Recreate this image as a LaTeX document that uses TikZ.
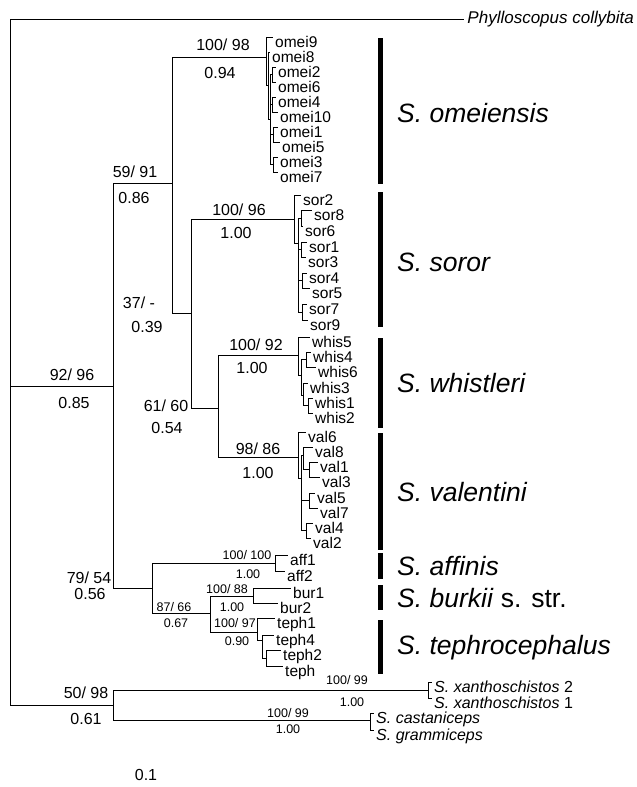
\documentclass[tikz,border=0pt]{standalone}
\usepackage{fontspec}
\setmainfont{Liberation Sans}

\begin{document}
\begin{tikzpicture}[x=1pt, y=-1pt,
    branch/.style={line width=0.7pt},
    leaf/.style={anchor=west, inner xsep=2pt, inner ysep=0pt, text height=20pt, text depth=0pt, font=\fontsize{15.5}{15.5}\selectfont},
    sleaf/.style={leaf, font=\fontsize{16}{16}\selectfont},
    supp/.style={inner sep=0pt, font=\fontsize{16}{16}\selectfont},
    ssupp/.style={inner sep=0pt, font=\fontsize{12.5}{13}\selectfont},
    bar/.style={line width=4.5pt},
    clade/.style={anchor=west, inner sep=0pt, font=\fontsize{26.5}{28}\selectfont}]
  \fill[white] (0,0) rectangle (637,787);
  \useasboundingbox (0,0) rectangle (637,787);

  % backbone
  \coordinate (root) at (10,386);
  \coordinate (n92) at (113,386);
  \coordinate (og) at (113,705);
  \coordinate (xanth) at (428,690);
  \coordinate (cast) at (370,720);
  \coordinate (n59) at (172,183);
  \coordinate (n37) at (191,313);
  \coordinate (n61) at (218,408);
  \coordinate (n79) at (152,588);
  \coordinate (n87) at (210,613);
  % omeiensis
  \coordinate (o1) at (266,57);
  \coordinate (o2) at (268,85);
  \coordinate (o3) at (270,119);
  \coordinate (p1) at (272,74.5);
  \coordinate (p2) at (272,104.5);
  \coordinate (p3) at (273,134.5);
  \coordinate (p4) at (273,164.5);
  % soror
  \coordinate (s1) at (294,219);
  \coordinate (s2) at (298,243);
  \coordinate (q1) at (301,218);
  \coordinate (q2) at (301,249.5);
  \coordinate (q3) at (302,280.5);
  \coordinate (q4) at (302,312);
  % whistleri
  \coordinate (w1) at (298,355);
  \coordinate (w2) at (301,375);
  \coordinate (w3) at (306,359.5);
  \coordinate (w4) at (303,395);
  \coordinate (w5) at (308,405.5);
  % valentini
  \coordinate (v1) at (298,457);
  \coordinate (v2) at (301,478);
  \coordinate (v3) at (303,455);
  \coordinate (v4) at (309,469.5);
  \coordinate (v5) at (309,500.5);
  \coordinate (v6) at (306,530.5);
  % affinis, burkii, tephrocephalus
  \coordinate (a1) at (275,563);
  \coordinate (b1) at (253,596);
  \coordinate (t1) at (257,632);
  \coordinate (t2) at (262,640);
  \coordinate (t3) at (266,658);

  % tips
  \node[anchor=east, inner xsep=3pt, inner ysep=0pt, font=\fontsize{17}{17}\selectfont\itshape] (phyl) at (637,19) {Phylloscopus collybita};
  \node[leaf] (omei9) at (273,37) {omei9};
  \node[leaf] (omei8) at (270,52) {omei8};
  \node[leaf] (omei2) at (276,67) {omei2};
  \node[leaf] (omei6) at (276,82) {omei6};
  \node[leaf] (omei4) at (276,97) {omei4};
  \node[leaf] (omei10) at (278,112) {omei10};
  \node[leaf] (omei1) at (278,127) {omei1};
  \node[leaf] (omei5) at (280,142) {omei5};
  \node[leaf] (omei3) at (278,157) {omei3};
  \node[leaf] (omei7) at (278,172) {omei7};
  \node[leaf] (sor2) at (301,195) {sor2};
  \node[leaf] (sor8) at (312,210) {sor8};
  \node[leaf] (sor6) at (303,226) {sor6};
  \node[leaf] (sor1) at (307,242) {sor1};
  \node[leaf] (sor3) at (306,257) {sor3};
  \node[leaf] (sor4) at (307,273) {sor4};
  \node[leaf] (sor5) at (310,288) {sor5};
  \node[leaf] (sor7) at (307,304) {sor7};
  \node[leaf] (sor9) at (308,320) {sor9};
  \node[leaf] (whis5) at (310,337) {whis5};
  \node[leaf] (whis4) at (311,352) {whis4};
  \node[leaf] (whis6) at (316,367) {whis6};
  \node[leaf] (whis3) at (308,383) {whis3};
  \node[leaf] (whis1) at (313,398) {whis1};
  \node[leaf] (whis2) at (313,413) {whis2};
  \node[leaf] (val6) at (306,432) {val6};
  \node[leaf] (val8) at (313,447) {val8};
  \node[leaf] (val1) at (318,462) {val1};
  \node[leaf] (val3) at (320,477) {val3};
  \node[leaf] (val5) at (315,493) {val5};
  \node[leaf] (val7) at (318,508) {val7};
  \node[leaf] (val4) at (313,523) {val4};
  \node[leaf] (val2) at (311,538) {val2};
  \node[leaf] (aff1) at (288,555) {aff1};
  \node[leaf] (aff2) at (285,571) {aff2};
  \node[leaf] (bur1) at (291,588) {bur1};
  \node[leaf] (bur2) at (278,603) {bur2};
  \node[leaf] (teph1) at (275,618) {teph1};
  \node[leaf] (teph4) at (274,635) {teph4};
  \node[leaf] (teph2) at (281,650) {teph2};
  \node[leaf] (teph) at (283,666) {teph};
  \node[sleaf] (xan2) at (432,682) {\textit{S. xanthoschistos} 2};
  \node[sleaf] (xan1) at (432,698) {\textit{S. xanthoschistos} 1};
  \node[sleaf] (casta) at (374,713) {\textit{S. castaniceps}};
  \node[sleaf] (gram) at (374,730) {\textit{S. grammiceps}};

  % branches
  \draw[branch] (root) |- (phyl) (root) -- (n92) (root) |- (og)
    (og) |- (xanth) (og) |- (cast)
    (xanth) |- (xan2) (xanth) |- (xan1) (cast) |- (casta) (cast) |- (gram)
    (n92) |- (n59) (n92) |- (n79) (n59) |- (o1) (n59) |- (n37)
    (n37) |- (s1) (n37) |- (n61) (n61) |- (w1) (n61) |- (v1)
    (n79) |- (a1) (n79) |- (n87) (n87) |- (b1) (n87) |- (t1);
  \draw[branch] (o1) |- (omei9) (o1) |- (o2) (o2) |- (omei8) (o2) |- (o3)
    (o3) |- (p1) (o3) |- (p2) (o3) |- (p3) (o3) |- (p4)
    (p1) |- (omei2) (p1) |- (omei6) (p2) |- (omei4) (p2) |- (omei10)
    (p3) |- (omei1) (p3) |- (omei5) (p4) |- (omei3) (p4) |- (omei7);
  \draw[branch] (s1) |- (sor2) (s1) |- (s2)
    (s2) |- (q1) (s2) |- (q2) (s2) |- (q3) (s2) |- (q4)
    (q1) |- (sor8) (q1) |- (sor6) (q2) |- (sor1) (q2) |- (sor3)
    (q3) |- (sor4) (q3) |- (sor5) (q4) |- (sor7) (q4) |- (sor9);
  \draw[branch] (w1) |- (whis5) (w1) |- (w2) (w2) |- (w3) (w2) |- (w4)
    (w3) |- (whis4) (w3) |- (whis6) (w4) |- (whis3) (w4) |- (w5)
    (w5) |- (whis1) (w5) |- (whis2);
  \draw[branch] (v1) |- (val6) (v1) |- (v2) (v2) |- (v3) (v2) |- (v5) (v2) |- (v6)
    (v3) |- (val8) (v3) |- (v4) (v4) |- (val1) (v4) |- (val3)
    (v5) |- (val5) (v5) |- (val7) (v6) |- (val4) (v6) |- (val2);
  \draw[branch] (a1) |- (aff1) (a1) |- (aff2) (b1) |- (bur1) (b1) |- (bur2)
    (t1) |- (teph1) (t1) |- (t2) (t2) |- (teph4) (t2) |- (t3)
    (t3) |- (teph2) (t3) |- (teph);

  % support values
  \node[supp] (bs-omei) at (223,45) {100/ 98};
  \node[supp] (pp-omei) at (220,73) {0.94};
  \node[supp] (bs-n59) at (135,172) {59/ 91};
  \node[supp] (pp-n59) at (134,198) {0.86};
  \node[supp] (bs-n37) at (139,303) {37/ -};
  \node[supp] (pp-n37) at (147,327) {0.39};
  \node[supp] (bs-n92) at (72,375) {92/ 96};
  \node[supp] (pp-n92) at (74,403) {0.85};
  \node[supp] (bs-sor) at (239,210) {100/ 96};
  \node[supp] (pp-sor) at (236,233) {1.00};
  \node[supp] (bs-n61) at (166,406) {61/ 60};
  \node[supp] (pp-n61) at (167,428) {0.54};
  \node[supp] (bs-whis) at (256,345) {100/ 92};
  \node[supp] (pp-whis) at (252,368) {1.00};
  \node[supp] (bs-val) at (258,449) {98/ 86};
  \node[supp] (pp-val) at (258,473) {1.00};
  \node[supp] (bs-n79) at (89,578) {79/ 54};
  \node[supp] (pp-n79) at (90,594) {0.56};
  \node[ssupp] (bs-aff) at (247,555) {100/ 100};
  \node[ssupp] (pp-aff) at (248,574) {1.00};
  \node[ssupp] (bs-bur) at (227,589) {100/ 88};
  \node[ssupp] (pp-bur) at (232,607) {1.00};
  \node[ssupp] (bs-n87) at (174,607) {87/ 66};
  \node[ssupp] (pp-n87) at (176,623) {0.67};
  \node[ssupp] (bs-teph) at (235,623) {100/ 97};
  \node[ssupp] (pp-teph) at (237,641) {0.90};
  \node[supp] (bs-og) at (86,693) {50/ 98};
  \node[supp] (pp-og) at (86,719) {0.61};
  \node[ssupp] (bs-xan) at (347,680) {100/ 99};
  \node[ssupp] (pp-xan) at (352,702) {1.00};
  \node[ssupp] (bs-cast) at (288,713) {100/ 99};
  \node[ssupp] (pp-cast) at (288,729) {1.00};
  \node[supp] (scale) at (146,775) {0.1};

  % species bars
  \draw[bar] (380.5,38) -- (380.5,184);
  \draw[bar] (380.5,192) -- (380.5,327);
  \draw[bar] (380.5,338) -- (380.5,428);
  \draw[bar] (380.5,433) -- (380.5,550);
  \draw[bar] (380.5,553) -- (380.5,579);
  \draw[bar] (380.5,585) -- (380.5,610);
  \draw[bar] (380.5,620) -- (380.5,674);
  \node[clade] (c-omei) at (397,113) {\textit{S. omeiensis}};
  \node[clade] (c-sor) at (397,262) {\textit{S. soror}};
  \node[clade] (c-whis) at (397,383) {\textit{S. whistleri}};
  \node[clade] (c-val) at (397,492) {\textit{S. valentini}};
  \node[clade] (c-aff) at (397,566) {\textit{S. affinis}};
  \node[clade] (c-bur) at (397,598) {\textit{S. burkii} s. str.};
  \node[clade] (c-teph) at (397,648) {\textit{S. tephrocephalus}};
\end{tikzpicture}
\end{document}
